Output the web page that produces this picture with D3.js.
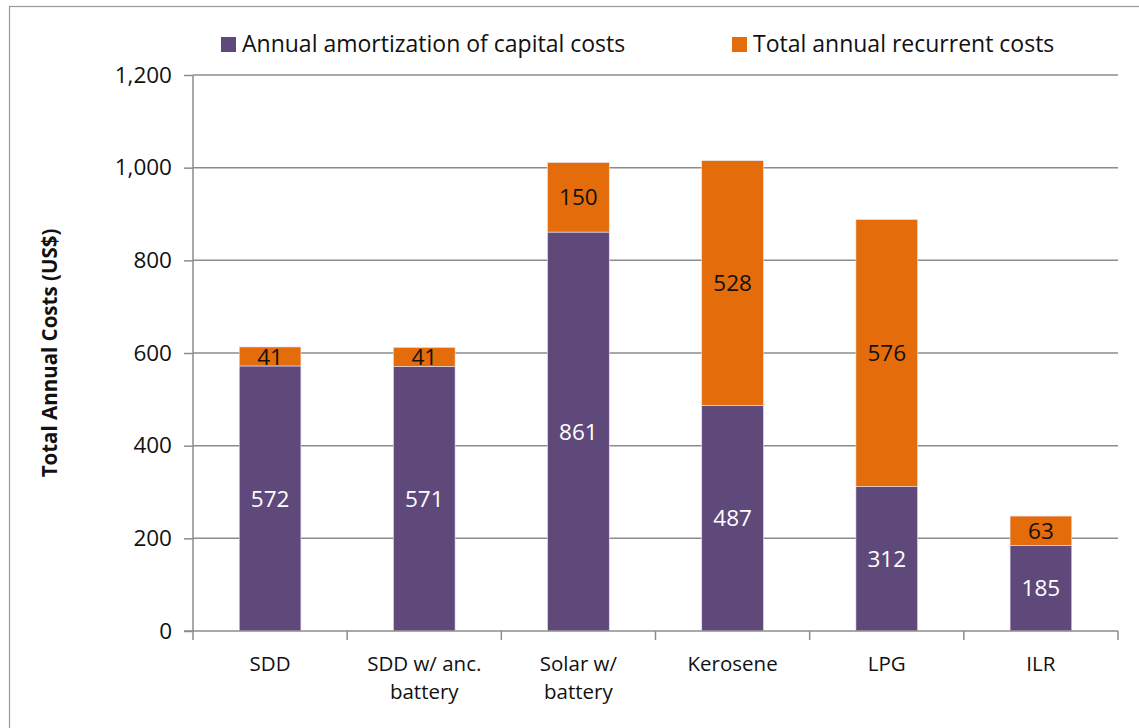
<!DOCTYPE html>
<html><head><meta charset="utf-8">
<script src="https://cdn.jsdelivr.net/npm/d3@7"></script>
<style>body{margin:0;background:#fff}svg{display:block}text{font-family:"Open Sans",sans-serif}</style>
</head><body><svg id="c" width="1139" height="728"></svg>
<script>
const categories = [["SDD"],["SDD w/ anc.","battery"],["Solar w/","battery"],["Kerosene"],["LPG"],["ILR"]];
const capital = [572, 571, 861, 487, 312, 185];
const recurrent = [41, 41, 150, 528, 576, 63];
const seriesNames = ["Annual amortization of capital costs", "Total annual recurrent costs"];
const yTicks = [0, 200, 400, 600, 800, 1000, 1200];

const colors = ["#5F497A", "#E46C0A"];
const svg = d3.select("#c");
const W = 1139, H = 728;
const m = {l:193, r:1118, t:75, b:631};
const FS = 22.5;

svg.append("rect").attr("x",9.5).attr("y",6.5).attr("width",W).attr("height",H).attr("fill","none").attr("stroke","#9a9a9a").attr("stroke-width",1.2);

const x = d3.scaleBand().domain(d3.range(categories.length)).range([m.l, m.r]).paddingInner(0.6).paddingOuter(0.3);
const y = d3.scaleLinear().domain([0,1200]).range([m.b, m.t]);

// gridlines
svg.append("g").selectAll("line").data(yTicks.filter(d=>d>0)).join("line")
  .attr("x1",m.l).attr("x2",m.r).attr("y1",d=>y(d)).attr("y2",d=>y(d))
  .attr("stroke","#8c8c8c").attr("stroke-width",1.5);

const data = categories.map((c,i)=>({i, cap:capital[i], rec:recurrent[i]}));
const stack = d3.stack().keys(["cap","rec"])(data);

stack.forEach((s,k)=>{
  svg.append("g").selectAll("rect").data(s).join("rect")
    .attr("x",d=>x(d.data.i)).attr("width",x.bandwidth())
    .attr("y",d=>y(d[1])).attr("height",d=>y(d[0])-y(d[1]))
    .attr("fill",colors[k]).attr("stroke","#e8e0f0").attr("stroke-width",0.6);
  svg.append("g").selectAll("text").data(s).join("text")
    .attr("x",d=>x(d.data.i)+x.bandwidth()/2)
    .attr("y",d=>y((d[0]+d[1])/2))
    .attr("dy","0.36em").attr("text-anchor","middle")
    .attr("font-size",FS).attr("fill",k===0?"#ffffff":"#111")
    .text(d=>d[1]-d[0]);
});

// y axis
const ya = svg.append("g").attr("transform",`translate(${m.l},0)`)
  .call(d3.axisLeft(y).tickValues(yTicks).tickSize(9).tickPadding(12).tickFormat(d3.format(",")));
ya.select(".domain").attr("stroke","#8c8c8c").attr("stroke-width",1.5).attr("d",`M0,${m.t}V${m.b}`);
ya.selectAll(".tick line").attr("stroke","#8c8c8c").attr("stroke-width",1.5);
ya.selectAll(".tick text").attr("font-size",FS).attr("fill","#111").attr("font-family","Open Sans");

// x axis
const xg = svg.append("g");
xg.append("line").attr("x1",m.l-9).attr("x2",m.r).attr("y1",m.b).attr("y2",m.b).attr("stroke","#8c8c8c").attr("stroke-width",1.5);
const bounds = d3.range(categories.length+1).map(i=>m.l + (m.r-m.l)*i/categories.length);
xg.selectAll(".xt").data(bounds).join("line").attr("class","xt")
  .attr("x1",d=>d).attr("x2",d=>d).attr("y1",m.b).attr("y2",m.b+9).attr("stroke","#8c8c8c").attr("stroke-width",1.5);
categories.forEach((lines,i)=>{
  lines.forEach((t,j)=>{
    xg.append("text").attr("x",x(i)+x.bandwidth()/2).attr("y",671+j*28)
      .attr("text-anchor","middle").attr("font-size",20.5).attr("fill","#111").text(t);
  });
});

// y title
svg.append("text").attr("transform","translate(57,353) rotate(-90)").attr("text-anchor","middle")
  .attr("font-size",20.5).attr("font-weight","bold").attr("fill","#111").text("Total Annual Costs (US$)");

// legend
const leg = [{x:221, c:colors[0], t:seriesNames[0]},{x:732, c:colors[1], t:seriesNames[1]}];
leg.forEach(l=>{
  svg.append("rect").attr("x",l.x).attr("y",37).attr("width",15).attr("height",15).attr("fill",l.c);
  svg.append("text").attr("x",l.x+21).attr("y",44).attr("dy","0.36em").attr("font-size",23).attr("fill","#111").text(l.t);
});
</script></body></html>
